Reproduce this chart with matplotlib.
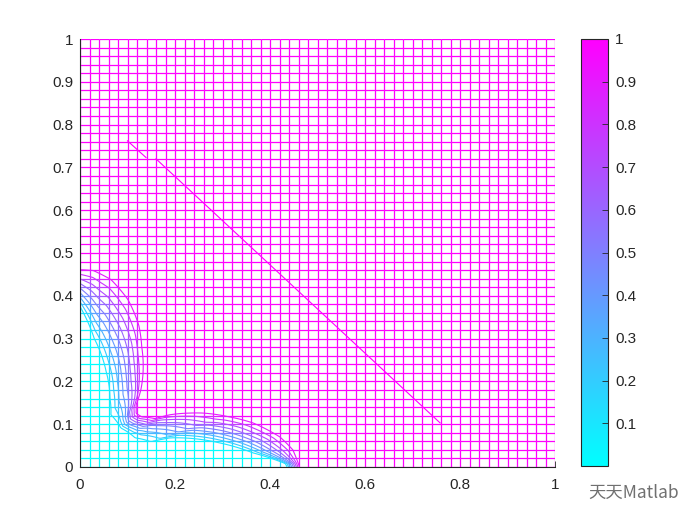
import numpy as np
import matplotlib
matplotlib.use("Agg")
import matplotlib.pyplot as plt
from matplotlib.collections import LineCollection

# front: outermost (level 0.9) and innermost (level 0.1) contour
outer_x = [0.0, 0.028, 0.065, 0.101, 0.124, 0.130, 0.133, 0.128, 0.118, 0.118,
           0.130, 0.158, 0.189, 0.232, 0.259, 0.310, 0.364, 0.421, 0.448, 0.462]
outer_y = [0.461, 0.459, 0.438, 0.391, 0.330, 0.280, 0.230, 0.180, 0.145, 0.125,
           0.117, 0.113, 0.122, 0.126, 0.126, 0.118, 0.103, 0.070, 0.040, 0.0]
inner_x = [0.0, 0.030, 0.055, 0.063, 0.065, 0.086, 0.116, 0.149, 0.189, 0.295,
           0.364, 0.400, 0.432, 0.436]
inner_y = [0.375, 0.300, 0.223, 0.160, 0.122, 0.091, 0.068, 0.059, 0.068, 0.056,
           0.033, 0.021, 0.008, 0.0]
inner_level = 0.1
outer_level = 0.9
contour_levels = [0.1, 0.2, 0.3, 0.4, 0.5, 0.6, 0.7, 0.8, 0.9]

# the stray magenta line (two pieces)
diag_x = [[0.100, 0.139], [0.160, 0.758]]
diag_y = [[0.762, 0.723], [0.720, 0.103]]

n_mesh = 51
x_ticks = [0, 0.2, 0.4, 0.6, 0.8, 1]
x_labels = ["0", "0.2", "0.4", "0.6", "0.8", "1"]
y_ticks = [0, 0.1, 0.2, 0.3, 0.4, 0.5, 0.6, 0.7, 0.8, 0.9, 1]
y_labels = ["0", "0.1", "0.2", "0.3", "0.4", "0.5", "0.6", "0.7", "0.8", "0.9", "1"]
cb_ticks = [0.1, 0.2, 0.3, 0.4, 0.5, 0.6, 0.7, 0.8, 0.9, 1]
cb_labels = ["0.1", "0.2", "0.3", "0.4", "0.5", "0.6", "0.7", "0.8", "0.9", "1"]

plt.rcParams["font.family"] = ["Liberation Sans", "DejaVu Sans"]
cmap = plt.get_cmap("cool")


def polar(xs, ys):
    xs = np.asarray(xs)
    ys = np.asarray(ys)
    a = np.arctan2(ys, xs)
    r = np.hypot(xs, ys)
    k = np.argsort(a)
    return a[k], r[k]


a_out, r_out = polar(outer_x, outer_y)
a_in, r_in = polar(inner_x, inner_y)


def field(X, Y):
    th = np.arctan2(Y, X)
    R = np.hypot(X, Y)
    ri = np.interp(th, a_in, r_in)
    ro = np.interp(th, a_out, r_out)
    s = (R - ri) / (ro - ri)
    return np.clip(inner_level + (outer_level - inner_level) * s, 0, 1)


fig = plt.figure(figsize=(7, 5.25), dpi=100)
ax = fig.add_axes([0.1143, 0.1105, 0.6786, 0.8152])

# mesh, coloured by vertex values
g = np.linspace(0, 1, n_mesh)
GX, GY = np.meshgrid(g, g)
GV = field(GX, GY)
segs = []
vals = []
for i in range(n_mesh):
    for j in range(n_mesh - 1):
        segs.append([(GX[i, j], GY[i, j]), (GX[i, j + 1], GY[i, j + 1])])
        vals.append(0.5 * (GV[i, j] + GV[i, j + 1]))
        segs.append([(GX[j, i], GY[j, i]), (GX[j + 1, i], GY[j + 1, i])])
        vals.append(0.5 * (GV[j, i] + GV[j + 1, i]))
lc = LineCollection(segs, colors=cmap(np.array(vals)), linewidths=0.9)
ax.add_collection(lc)

# contours on a finer grid
f = np.linspace(0, 1, 401)
FX, FY = np.meshgrid(f, f)
ax.contour(FX, FY, field(FX, FY), levels=contour_levels, cmap=cmap,
           vmin=0, vmax=1, linewidths=0.8)

for dx, dy in zip(diag_x, diag_y):
    ax.plot(dx, dy, color=cmap(1.0), lw=0.8)

ax.set_xlim(0, 1)
ax.set_ylim(0, 1)
ax.set_xticks(x_ticks)
ax.set_xticklabels(x_labels)
ax.set_yticks(y_ticks)
ax.set_yticklabels(y_labels)
ax.spines["top"].set_visible(False)
ax.spines["right"].set_visible(False)
for s in ("left", "bottom"):
    ax.spines[s].set_color("#262626")
    ax.spines[s].set_linewidth(0.8)
    ax.spines[s].set_zorder(5)
ax.tick_params(direction="in", length=4, width=0.6, colors="#262626",
               labelsize=11, pad=5)
ax.tick_params(axis="x", pad=8)

# colorbar
cax = fig.add_axes([0.83, 0.112, 0.0386, 0.814])
sm = plt.cm.ScalarMappable(cmap=cmap, norm=plt.Normalize(0, 1))
cb = fig.colorbar(sm, cax=cax, ticks=cb_ticks)
cb.set_ticklabels(cb_labels)
cb.outline.set_edgecolor("#262626")
cb.outline.set_linewidth(0.8)
cax.tick_params(direction="in", length=4, width=0.6, colors="#262626",
                labelsize=11, pad=5)

fig.text(0.84, 0.061, "天天Matlab", family=["Noto Sans CJK SC", "DejaVu Sans"],
         fontsize=12.5, color="#707070", va="center", ha="left")

fig.savefig("out.png", dpi=100)
